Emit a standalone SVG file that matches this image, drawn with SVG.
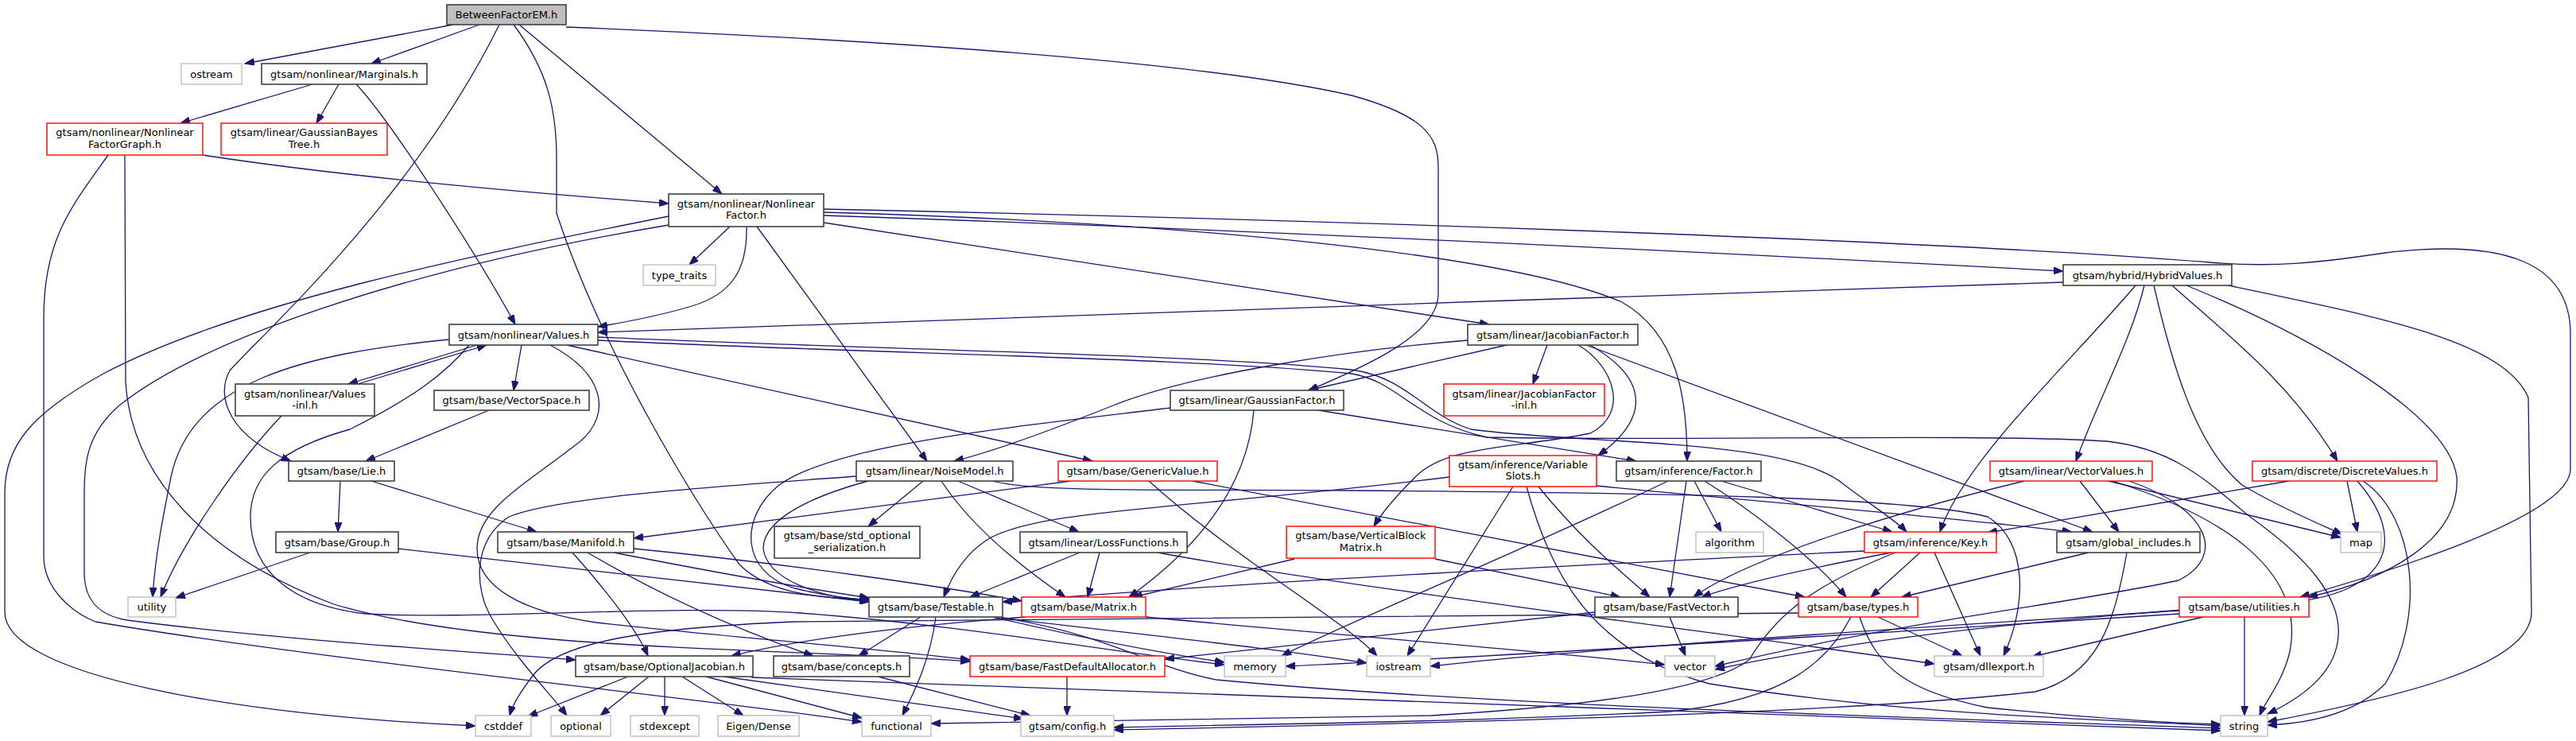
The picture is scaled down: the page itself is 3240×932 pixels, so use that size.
<svg xmlns="http://www.w3.org/2000/svg" width="3240" height="932" viewBox="0 0 3240 932">
<defs>
<marker id="ah" markerWidth="13" markerHeight="9" refX="12" refY="4.5" orient="auto" markerUnits="userSpaceOnUse"><path d="M0,0 L12,4.5 L0,9 z" fill="#191970" stroke="#191970" stroke-width="1"/></marker>
<style>
.e{fill:none;stroke:#191970;stroke-width:1.3;marker-end:url(#ah)}
.n rect{fill:#ffffff;stroke:#404040;stroke-width:1.6}
.r rect{fill:#ffffff;stroke:#ff0000;stroke-width:1.4}
.g rect{fill:#ffffff;stroke:#bfbfbf;stroke-width:1.4}
.root rect{fill:#bfbfbf;stroke:#404040;stroke-width:1.6}
text{font-family:"DejaVu Sans","Liberation Sans",sans-serif;font-size:13px;text-anchor:middle;fill:#000000}
</style>
</defs>
<rect width="3240" height="932" fill="#ffffff"/>
<g id="edges">
<path class="e" d="M570,31 L308,80"/>
<path class="e" d="M603,31 L467,80"/>
<path class="e" d="M628,31 C520,250 330,420 289,466 C270,500 290,550 366,580"/>
<path class="e" d="M646,31 C690,90 700,140 700,200 L700,268 C760,450 880,640 930,710 C970,750 1040,752 1093,754"/>
<path class="e" d="M653,31 L908,244"/>
<path class="e" d="M712,34 C1100,50 1500,75 1700,120 C1790,145 1809,170 1809,210 L1809,370 C1809,420 1720,460 1646,491"/>
<path class="e" d="M393,106 L227,155"/>
<path class="e" d="M426,106 L398,155"/>
<path class="e" d="M448,106 C490,150 600,320 648,408"/>
<path class="e" d="M255,195 C450,225 700,245 841,256"/>
<path class="e" d="M136,195 C90,260 55,300 55,400 L55,700 C55,740 90,770 120,782 C400,830 900,880 1084,908"/>
<path class="e" d="M157,195 L158,480 C165,600 260,700 420,760 C620,820 1000,815 1220,832"/>
<path class="e" d="M918,285 L867,333"/>
<path class="e" d="M939,285 C940,340 920,370 870,385 C820,400 780,406 752,411"/>
<path class="e" d="M952,285 L1166,580"/>
<path class="e" d="M1036,280 L1873,408"/>
<path class="e" d="M1036,267 C1500,280 1900,320 2040,380 C2110,420 2122,500 2122,580"/>
<path class="e" d="M1036,271 C1600,290 2200,320 2595,341"/>
<path class="e" d="M1036,263 C1600,275 2400,300 2780,330 C2860,337 2920,330 3000,318 C3150,300 3233,330 3233,420 L3233,590 C3233,650 3000,720 2893,751"/>
<path class="e" d="M841,272 C600,320 300,380 130,470 C40,520 6,560 6,620 L6,770 C6,850 300,900 598,913"/>
<path class="e" d="M841,283 C500,340 250,430 150,510 C110,545 106,580 106,620 L106,720 C106,760 130,775 160,780 C350,805 600,820 724,830"/>
<path class="e" d="M600,434 L438,483"/>
<path class="e" d="M450,483 L612,434"/>
<path class="e" d="M656,434 L646,491"/>
<path class="e" d="M713,434 L1374,580"/>
<path class="e" d="M565,427 C380,445 240,480 215,600 C205,650 195,700 192,751"/>
<path class="e" d="M354,523 C300,580 230,680 202,751"/>
<path class="e" d="M590,434 C560,470 520,500 440,540 C350,565 315,600 315,650 C315,720 370,762 460,772 C600,780 850,760 1006,771 C1200,785 1400,820 1540,836"/>
<path class="e" d="M692,434 C760,470 770,520 730,555 C660,610 600,640 600,690 C600,740 660,770 750,783 C900,800 1100,815 1220,830"/>
<path class="e" d="M752,424 C1100,440 1500,445 1700,465 C1770,475 1790,520 1850,540 C2000,560 2250,550 2320,610 C2360,640 2385,655 2398,669"/>
<path class="e" d="M752,428 C1100,445 1500,450 1700,470 C1760,480 1780,530 1870,550 C2100,555 2500,545 2650,555 C2740,565 2780,610 2830,650 C2900,700 2945,750 2941,800 C2938,850 2890,880 2852,898"/>
<path class="e" d="M2595,355 C2000,375 1200,400 752,418"/>
<path class="e" d="M2686,359 C2600,460 2470,580 2440,669"/>
<path class="e" d="M2697,359 C2680,430 2640,500 2611,580"/>
<path class="e" d="M2709,359 C2730,450 2760,560 2820,610 C2870,640 2920,660 2946,672"/>
<path class="e" d="M2732,359 C2800,420 2880,480 2940,580"/>
<path class="e" d="M2750,359 C2900,420 3080,520 3090,600 C3095,680 3000,730 2903,751"/>
<path class="e" d="M2803,359 C3000,400 3150,430 3180,500 L3184,770 C3184,840 3000,880 2852,908"/>
<path class="e" d="M1895,434 L1645,491"/>
<path class="e" d="M1846,428 C1700,440 1500,470 1400,510 C1300,550 1240,570 1200,580"/>
<path class="e" d="M1946,434 L1928,483"/>
<path class="e" d="M2000,434 C2080,480 2070,530 2010,573"/>
<path class="e" d="M1985,434 C2030,460 2050,520 2000,545 C1900,565 1820,560 1780,600 C1750,630 1735,650 1728,662"/>
<path class="e" d="M1995,434 L2632,669"/>
<path class="e" d="M1658,516 L2058,580"/>
<path class="e" d="M1577,516 C1570,600 1520,680 1420,751"/>
<path class="e" d="M1472,513 C1250,540 1050,560 980,610 C930,650 930,720 1000,740 C1040,750 1070,753 1093,755"/>
<path class="e" d="M1092,605 C1000,630 960,660 960,690 C965,730 1030,750 1093,757"/>
<path class="e" d="M1161,605 L1092,662"/>
<path class="e" d="M1184,605 C1220,660 1280,710 1340,751"/>
<path class="e" d="M1205,605 L1357,669"/>
<path class="e" d="M1077,599 C900,612 700,625 640,650 C595,680 595,740 620,780 C650,830 690,870 713,900"/>
<path class="e" d="M1249,605 C1300,620 1500,615 1700,617 C2100,620 2400,625 2500,650 C2550,680 2550,760 2520,825"/>
<path class="e" d="M1347,605 L797,677"/>
<path class="e" d="M1500,605 L2270,751"/>
<path class="e" d="M1445,605 C1550,700 1690,780 1732,825"/>
<path class="e" d="M428,605 L425,669"/>
<path class="e" d="M467,605 L675,669"/>
<path class="e" d="M615,516 L460,580"/>
<path class="e" d="M390,695 L221,752"/>
<path class="e" d="M500,690 L1093,757"/>
<path class="e" d="M772,695 C900,720 1000,738 1093,752"/>
<path class="e" d="M720,695 C760,740 800,790 815,825"/>
<path class="e" d="M739,695 C850,760 950,800 1023,825"/>
<path class="e" d="M797,690 C1000,710 1200,740 1285,756"/>
<path class="e" d="M1358,695 L1220,751"/>
<path class="e" d="M1383,695 L1368,751"/>
<path class="e" d="M1456,695 C1700,740 2200,800 2433,835"/>
<path class="e" d="M1823,600 C1500,640 1300,640 1240,680 C1210,700 1195,730 1187,751"/>
<path class="e" d="M1935,612 C1990,680 2040,720 2075,751"/>
<path class="e" d="M1903,612 L1770,825"/>
<path class="e" d="M1920,612 C1950,720 2000,820 2150,860 C2400,900 2650,905 2793,913"/>
<path class="e" d="M2008,611 C2200,630 2450,650 2606,669"/>
<path class="e" d="M2121,605 L2100,751"/>
<path class="e" d="M2131,605 L2165,669"/>
<path class="e" d="M2165,605 L2380,669"/>
<path class="e" d="M2144,605 C2200,640 2280,700 2322,751"/>
<path class="e" d="M2098,605 C1900,700 1700,780 1612,825"/>
<path class="e" d="M1805,703 L2038,751"/>
<path class="e" d="M1628,703 L1425,751"/>
<path class="e" d="M2379,695 C2300,710 2200,730 2140,751"/>
<path class="e" d="M2415,695 L2353,751"/>
<path class="e" d="M2433,695 L2491,825"/>
<path class="e" d="M2384,695 C2270,740 2230,780 2200,830 C2160,860 2050,885 1800,900 C1500,906 1300,908 1171,910"/>
<path class="e" d="M2345,693 C2000,710 1600,730 1261,757"/>
<path class="e" d="M2362,776 L2468,825"/>
<path class="e" d="M2339,776 C2360,840 2400,870 2500,890 C2650,905 2750,910 2793,911"/>
<path class="e" d="M2328,776 C2300,830 2250,880 2100,895 C1800,910 1500,912 1401,915"/>
<path class="e" d="M2262,771 C2000,775 1500,777 1000,782 C800,790 700,810 670,850 C655,870 645,885 641,900"/>
<path class="e" d="M2627,695 L2392,751"/>
<path class="e" d="M2675,695 C2660,780 2640,850 2560,870 C2300,900 1700,912 1401,918"/>
<path class="e" d="M2546,605 C2400,640 2200,700 2130,751"/>
<path class="e" d="M2616,605 L2665,669"/>
<path class="e" d="M2652,605 L2944,676"/>
<path class="e" d="M2657,605 C2800,650 2900,720 2880,820 C2870,860 2850,880 2842,900"/>
<path class="e" d="M2678,605 C2780,640 2800,700 2740,730 C2600,760 2400,780 2157,838"/>
<path class="e" d="M2879,605 L2500,670"/>
<path class="e" d="M2952,605 L2965,669"/>
<path class="e" d="M2972,605 C3040,650 3050,780 3000,860 C2960,900 2900,910 2852,912"/>
<path class="e" d="M2965,605 C3030,680 3000,740 2900,755 C2700,770 2400,790 2157,842"/>
<path class="e" d="M2823,776 L2823,900"/>
<path class="e" d="M2771,776 L2556,826"/>
<path class="e" d="M2741,768 C2400,790 2000,815 1799,838"/>
<path class="e" d="M2741,772 C2300,800 1900,825 1617,838"/>
<path class="e" d="M2100,776 L2120,825"/>
<path class="e" d="M2006,770 L1465,829"/>
<path class="e" d="M1158,776 L1080,825"/>
<path class="e" d="M1177,776 C1170,830 1150,870 1135,900"/>
<path class="e" d="M1249,776 C1350,800 1450,820 1540,833"/>
<path class="e" d="M1259,777 C1450,800 1600,815 1719,834"/>
<path class="e" d="M1262,777 C1400,800 1450,840 1530,855 C1900,890 2500,905 2793,916"/>
<path class="e" d="M1441,776 C1700,800 1950,820 2094,836"/>
<path class="e" d="M1290,776 C1100,790 980,810 920,825"/>
<path class="e" d="M790,851 L664,901"/>
<path class="e" d="M816,851 L755,900"/>
<path class="e" d="M836,851 L836,900"/>
<path class="e" d="M858,851 L935,900"/>
<path class="e" d="M888,851 L1084,903"/>
<path class="e" d="M910,851 L1287,904"/>
<path class="e" d="M945,852 C1300,870 2000,895 2793,919"/>
<path class="e" d="M1104,851 L1296,900"/>
<path class="e" d="M1342,851 L1342,900"/>
</g>
<g id="nodes">
<g id="n-root" class="root"><rect x="562" y="6" width="150" height="25"/><text x="637" y="23">BetweenFactorEM.h</text></g>
<g id="n-ostream" class="g"><rect x="228" y="80" width="76" height="26"/><text x="266" y="97.5">ostream</text></g>
<g id="n-marginals" class="n"><rect x="329" y="80" width="208" height="26"/><text x="433" y="97.5">gtsam/nonlinear/Marginals.h</text></g>
<g id="n-nfg" class="r"><rect x="59" y="155" width="196" height="40"/><text x="157" y="171">gtsam/nonlinear/Nonlinear</text><text x="157" y="186">FactorGraph.h</text></g>
<g id="n-gbt" class="r"><rect x="278" y="155" width="209" height="40"/><text x="382.5" y="171">gtsam/linear/GaussianBayes</text><text x="382.5" y="186">Tree.h</text></g>
<g id="n-nf" class="n"><rect x="841" y="244" width="195" height="41"/><text x="938.5" y="261">gtsam/nonlinear/Nonlinear</text><text x="938.5" y="275">Factor.h</text></g>
<g id="n-typetraits" class="g"><rect x="809" y="333" width="91" height="26"/><text x="854.5" y="350.5">type_traits</text></g>
<g id="n-values" class="n"><rect x="565" y="408" width="187" height="26"/><text x="658.5" y="425.5">gtsam/nonlinear/Values.h</text></g>
<g id="n-jacobian" class="n"><rect x="1846" y="408" width="214" height="26"/><text x="1953" y="425.5">gtsam/linear/JacobianFactor.h</text></g>
<g id="n-hybrid" class="n"><rect x="2595" y="333" width="212" height="26"/><text x="2701" y="350.5">gtsam/hybrid/HybridValues.h</text></g>
<g id="n-valuesinl" class="n"><rect x="296" y="483" width="175" height="40"/><text x="383.5" y="499.5">gtsam/nonlinear/Values</text><text x="383.5" y="514">-inl.h</text></g>
<g id="n-vectorspace" class="n"><rect x="546" y="491" width="195" height="25"/><text x="643.5" y="508">gtsam/base/VectorSpace.h</text></g>
<g id="n-gaussianfactor" class="n"><rect x="1472" y="491" width="218" height="25"/><text x="1581" y="508">gtsam/linear/GaussianFactor.h</text></g>
<g id="n-jacobianinl" class="r"><rect x="1816" y="483" width="202" height="40"/><text x="1917" y="499.5">gtsam/linear/JacobianFactor</text><text x="1917" y="514">-inl.h</text></g>
<g id="n-lie" class="n"><rect x="363" y="580" width="133" height="25"/><text x="429.5" y="597">gtsam/base/Lie.h</text></g>
<g id="n-noisemodel" class="n"><rect x="1077" y="580" width="197" height="25"/><text x="1175.5" y="597">gtsam/linear/NoiseModel.h</text></g>
<g id="n-genericvalue" class="r"><rect x="1331" y="580" width="200" height="25"/><text x="1431" y="597">gtsam/base/GenericValue.h</text></g>
<g id="n-varslots" class="r"><rect x="1823" y="573" width="185" height="39"/><text x="1915.5" y="589">gtsam/inference/Variable</text><text x="1915.5" y="603">Slots.h</text></g>
<g id="n-factor" class="n"><rect x="2033" y="580" width="182" height="25"/><text x="2124" y="597">gtsam/inference/Factor.h</text></g>
<g id="n-vectorvalues" class="r"><rect x="2503" y="580" width="204" height="25"/><text x="2605" y="597">gtsam/linear/VectorValues.h</text></g>
<g id="n-discretevalues" class="r"><rect x="2833" y="580" width="232" height="25"/><text x="2949" y="597">gtsam/discrete/DiscreteValues.h</text></g>
<g id="n-group" class="n"><rect x="347" y="669" width="154" height="26"/><text x="424" y="686.5">gtsam/base/Group.h</text></g>
<g id="n-manifold" class="n"><rect x="626" y="669" width="171" height="26"/><text x="711.5" y="686.5">gtsam/base/Manifold.h</text></g>
<g id="n-stdopt" class="n"><rect x="974" y="662" width="183" height="40"/><text x="1065.5" y="678">gtsam/base/std_optional</text><text x="1065.5" y="693">_serialization.h</text></g>
<g id="n-loss" class="n"><rect x="1283" y="669" width="210" height="26"/><text x="1388" y="686.5">gtsam/linear/LossFunctions.h</text></g>
<g id="n-vbm" class="r"><rect x="1618" y="662" width="187" height="40"/><text x="1711.5" y="678">gtsam/base/VerticalBlock</text><text x="1711.5" y="693">Matrix.h</text></g>
<g id="n-algorithm" class="g"><rect x="2133" y="669" width="85" height="26"/><text x="2175.5" y="686.5">algorithm</text></g>
<g id="n-key" class="r"><rect x="2345" y="669" width="166" height="26"/><text x="2428" y="686.5">gtsam/inference/Key.h</text></g>
<g id="n-globalinc" class="n"><rect x="2587" y="669" width="180" height="26"/><text x="2677" y="686.5">gtsam/global_includes.h</text></g>
<g id="n-map" class="g"><rect x="2944" y="669" width="51" height="26"/><text x="2969.5" y="686.5">map</text></g>
<g id="n-utility" class="g"><rect x="161" y="751" width="60" height="25"/><text x="191" y="768">utility</text></g>
<g id="n-testable" class="n"><rect x="1093" y="751" width="168" height="25"/><text x="1177" y="768">gtsam/base/Testable.h</text></g>
<g id="n-matrix" class="r"><rect x="1285" y="751" width="156" height="25"/><text x="1363" y="768">gtsam/base/Matrix.h</text></g>
<g id="n-fastvector" class="n"><rect x="2006" y="751" width="180" height="25"/><text x="2096" y="768">gtsam/base/FastVector.h</text></g>
<g id="n-types" class="r"><rect x="2262" y="751" width="150" height="25"/><text x="2337" y="768">gtsam/base/types.h</text></g>
<g id="n-utilities" class="r"><rect x="2741" y="751" width="163" height="25"/><text x="2822.5" y="768">gtsam/base/utilities.h</text></g>
<g id="n-optjac" class="n"><rect x="724" y="825" width="223" height="26"/><text x="835.5" y="842.5">gtsam/base/OptionalJacobian.h</text></g>
<g id="n-concepts" class="n"><rect x="973" y="825" width="171" height="26"/><text x="1058.5" y="842.5">gtsam/base/concepts.h</text></g>
<g id="n-fda" class="r"><rect x="1220" y="825" width="245" height="26"/><text x="1342.5" y="842.5">gtsam/base/FastDefaultAllocator.h</text></g>
<g id="n-memory" class="g"><rect x="1540" y="825" width="77" height="26"/><text x="1578.5" y="842.5">memory</text></g>
<g id="n-iostream" class="g"><rect x="1719" y="825" width="80" height="26"/><text x="1759" y="842.5">iostream</text></g>
<g id="n-vector" class="g"><rect x="2094" y="825" width="63" height="26"/><text x="2125.5" y="842.5">vector</text></g>
<g id="n-dllexport" class="g"><rect x="2433" y="825" width="137" height="26"/><text x="2501.5" y="842.5">gtsam/dllexport.h</text></g>
<g id="n-cstddef" class="g"><rect x="598" y="900" width="70" height="26"/><text x="633" y="917.5">cstddef</text></g>
<g id="n-optional" class="g"><rect x="693" y="900" width="75" height="26"/><text x="730.5" y="917.5">optional</text></g>
<g id="n-stdexcept" class="g"><rect x="793" y="900" width="86" height="26"/><text x="836" y="917.5">stdexcept</text></g>
<g id="n-eigen" class="g"><rect x="903" y="900" width="102" height="26"/><text x="954" y="917.5">Eigen/Dense</text></g>
<g id="n-functional" class="g"><rect x="1084" y="900" width="87" height="26"/><text x="1127.5" y="917.5">functional</text></g>
<g id="n-config" class="g"><rect x="1284" y="900" width="117" height="26"/><text x="1342.5" y="917.5">gtsam/config.h</text></g>
<g id="n-string" class="g"><rect x="2793" y="900" width="59" height="26"/><text x="2822.5" y="917.5">string</text></g>
</g>
</svg>
